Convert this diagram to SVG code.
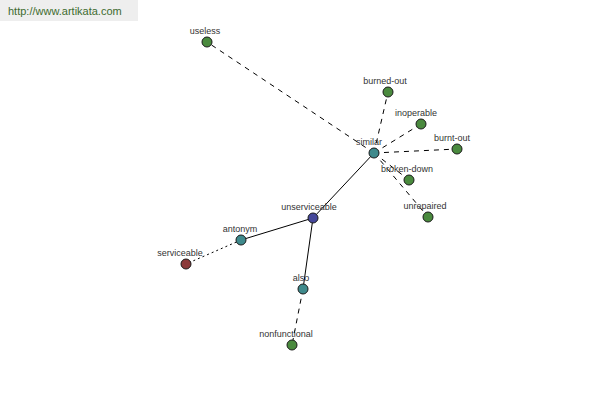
<svg xmlns="http://www.w3.org/2000/svg" width="600" height="400" viewBox="0 0 600 400">
<style>
.lbl{font-family:"Liberation Sans",Arial,sans-serif;font-size:9px;fill:#333;text-anchor:middle}
.n{stroke:#1a1a1a;stroke-width:1}
.g{fill:#4a8a3e}.t{fill:#3f8a8c}.b{fill:#45479a}.r{fill:#8c3a3a}
.e{stroke:#000;stroke-width:1;fill:none}
.d{stroke-dasharray:5,5}.o{stroke-dasharray:2,3}
</style>
<rect x="0" y="0" width="138" height="21" fill="#eeeeee"/>
<text x="8" y="15" font-family="Liberation Sans,Arial,sans-serif" font-size="11" fill="#3d6b2f">http://www.artikata.com</text>
<g id="connectors">
<line class="e d" x1="374" y1="153" x2="207" y2="42"/>
<line class="e d" x1="374" y1="153" x2="388" y2="92"/>
<line class="e d" x1="374" y1="153" x2="421" y2="124"/>
<line class="e d" x1="374" y1="153" x2="457" y2="149"/>
<line class="e d" x1="374" y1="153" x2="409" y2="180"/>
<line class="e d" x1="374" y1="153" x2="428" y2="217"/>
<line class="e" x1="374" y1="153" x2="313" y2="218"/>
<line class="e" x1="313" y1="218" x2="241" y2="240"/>
<line class="e o" x1="241" y1="240" x2="186" y2="264"/>
<line class="e" x1="313" y1="218" x2="303" y2="289"/>
<line class="e d" x1="303" y1="289" x2="292" y2="345"/>
</g>
<g id="useless"><circle class="n g" cx="207" cy="42" r="5"/><text class="lbl" x="205" y="34">useless</text></g>
<g id="burned-out"><circle class="n g" cx="388" cy="92" r="5"/><text class="lbl" x="385" y="84">burned-out</text></g>
<g id="inoperable"><circle class="n g" cx="421" cy="124" r="5"/><text class="lbl" x="416" y="116">inoperable</text></g>
<g id="burnt-out"><circle class="n g" cx="457" cy="149" r="5"/><text class="lbl" x="452" y="141">burnt-out</text></g>
<g id="broken-down"><circle class="n g" cx="409" cy="180" r="5"/><text class="lbl" x="407" y="172">broken-down</text></g>
<g id="unrepaired"><circle class="n g" cx="428" cy="217" r="5"/><text class="lbl" x="425" y="209">unrepaired</text></g>
<g id="similar"><circle class="n t" cx="374" cy="153" r="5"/><text class="lbl" x="369" y="145">similar</text></g>
<g id="unserviceable"><circle class="n b" cx="313" cy="218" r="5"/><text class="lbl" x="309" y="210">unserviceable</text></g>
<g id="antonym"><circle class="n t" cx="241" cy="240" r="5"/><text class="lbl" x="240" y="232">antonym</text></g>
<g id="serviceable"><circle class="n r" cx="186" cy="264" r="5"/><text class="lbl" x="180" y="256">serviceable</text></g>
<g id="also"><circle class="n t" cx="303" cy="289" r="5"/><text class="lbl" x="301" y="281">also</text></g>
<g id="nonfunctional"><circle class="n g" cx="292" cy="345" r="5"/><text class="lbl" x="286" y="337">nonfunctional</text></g>
</svg>
